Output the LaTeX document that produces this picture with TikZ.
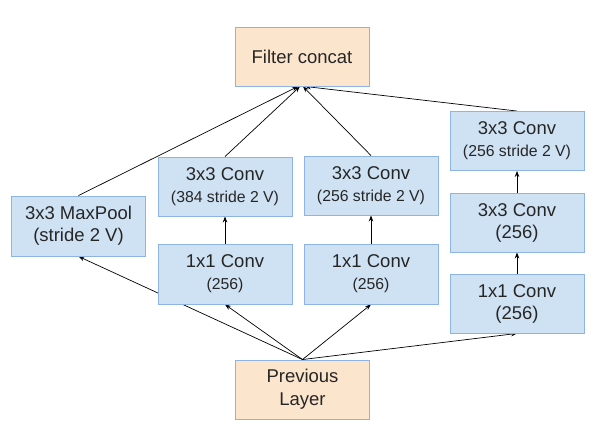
\documentclass[tikz,border=0pt]{standalone}
\usepackage{fontspec}
\setmainfont{Liberation Sans}
\usetikzlibrary{arrows.meta,backgrounds}
\definecolor{boxblue}{HTML}{CFE2F3}
\definecolor{boxorange}{HTML}{FCE5CD}
\definecolor{edgeblue}{HTML}{8EB4E6}
\tikzset{
  base/.style={draw=edgeblue, line width=0.9pt, align=center, inner sep=0pt,
    font=\fontsize{18.5}{22}\selectfont, text=black!85},
  bluebox/.style={base, fill=boxblue},
  orangebox/.style={base, fill=boxorange},
  conn/.style={draw=black, line width=0.7pt, -{Stealth[length=6pt,width=4.5pt]}},
  small/.style={font=\fontsize{15.8}{20}\selectfont}
}
\newcommand{\sm}[1]{{\fontsize{15.8}{20}\selectfont #1}}
\begin{document}
\begin{tikzpicture}[x=1pt,y=-1pt]
\useasboundingbox (0,0) rectangle (608,430);
% nodes
\node[orangebox, minimum width=134, minimum height=59] (fc) at (302,56.5) {Filter concat};
\node[orangebox, minimum width=134, minimum height=59] (prev) at (302.5,389.5) {Previous\\[1pt]Layer};
\node[bluebox, minimum width=134, minimum height=60] (mp) at (78.5,226) {3x3 MaxPool\\(stride 2 V)};
\node[bluebox, minimum width=134, minimum height=59] (l3) at (225,186.5) {3x3 Conv\\\sm{(384 stride 2 V)}};
\node[bluebox, minimum width=134, minimum height=60] (l1) at (225,274) {1x1 Conv\\\sm{(256)}};
\node[bluebox, minimum width=134, minimum height=59] (m3) at (371,185.5) {3x3 Conv\\\sm{(256 stride 2 V)}};
\node[bluebox, minimum width=134, minimum height=60] (m1) at (371,274) {1x1 Conv\\\sm{(256)}};
\node[bluebox, minimum width=134, minimum height=59] (r3) at (517,141) {3x3 Conv\\\sm{(256 stride 2 V)}};
\node[bluebox, minimum width=134, minimum height=59] (r2) at (517,222.5) {3x3 Conv\\(256)};
\node[bluebox, minimum width=134, minimum height=59] (r1) at (517,303.5) {1x1 Conv\\(256)};
% connectors
\begin{scope}[on background layer]
\draw[conn] (prev.north) -- (mp.south);
\draw[conn] (prev.north) -- (l1.south);
\draw[conn] (prev.north) -- (m1.south);
\draw[conn] (prev.north) -- (r1.south);
\draw[conn] (l1.north) -- (l3.south);
\draw[conn] (m1.north) -- (m3.south);
\draw[conn] (r1.north) -- (r2.south);
\draw[conn] (r2.north) -- (r3.south);
\draw[conn] (mp.north) -- ([xshift=-4pt]fc.south);
\draw[conn] (l3.north) -- ([xshift=-2pt]fc.south);
\draw[conn] (m3.north) -- ([xshift=1pt]fc.south);
\draw[conn] (r3.north) -- ([xshift=3pt]fc.south);
\end{scope}
\end{tikzpicture}
\end{document}
